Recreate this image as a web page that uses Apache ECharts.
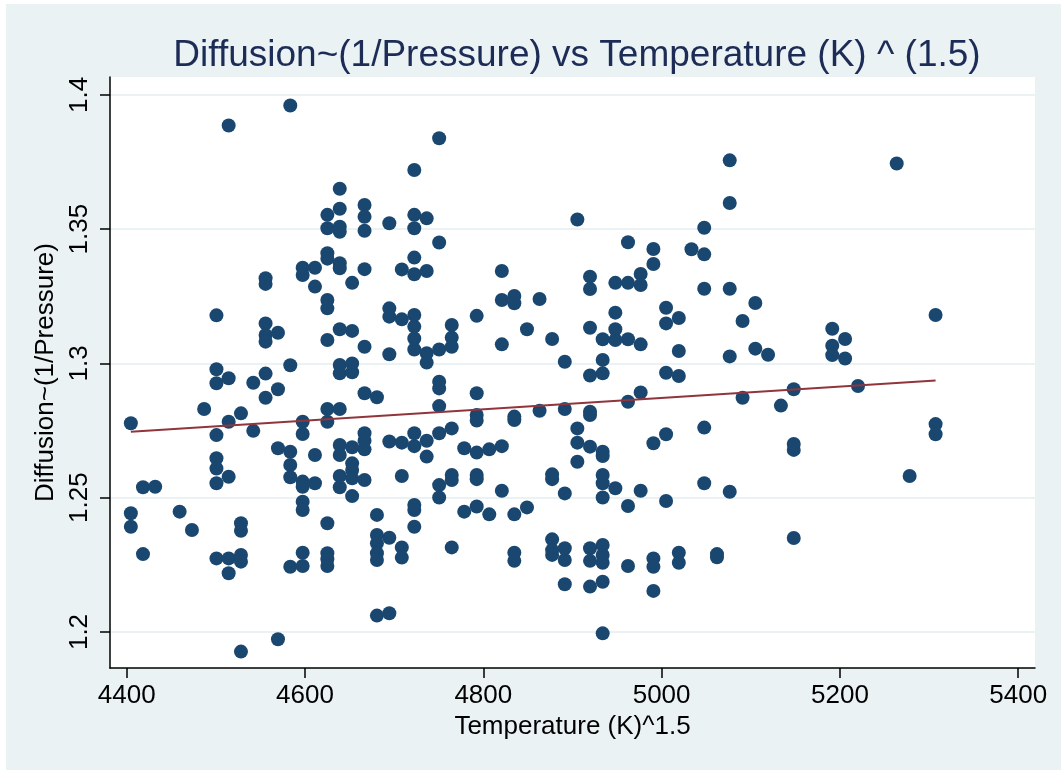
<!DOCTYPE html>
<html>
<head>
<meta charset="utf-8">
<title>Diffusion vs Temperature</title>
<script src="https://cdn.jsdelivr.net/npm/echarts@6.0.0/dist/echarts.min.js"></script>
<style>
  html, body { margin: 0; padding: 0; background: #ffffff; }
  #chart { width: 1061px; height: 770px; }
</style>
</head>
<body>
<div id="chart"></div>
<script>
// x positions (Temperature^1.5), one per column of points
const tempCols = [
  4404.7, 4418.3, 4432.0, 4459.4, 4473.2, 4486.9, 4500.7, 4514.4, 4528.2, 4542.0,
  4555.8, 4569.7, 4583.5, 4597.4, 4611.2, 4625.1, 4639.0, 4652.9, 4666.8, 4680.7,
  4694.6, 4708.6, 4722.6, 4736.5, 4750.5, 4764.6, 4778.6, 4792.6, 4806.7, 4820.8,
  4834.8, 4849.0, 4863.1, 4877.2, 4891.4, 4905.5, 4919.7, 4933.9, 4948.1, 4962.3,
  4976.5, 4990.8, 5005.0, 5019.3, 5033.5, 5047.8, 5062.1, 5076.4, 5090.8, 5105.1,
  5119.4, 5133.8, 5148.2, 5191.4, 5205.8, 5220.3, 5263.7, 5278.2, 5307.3
];

// diffusion values read for each column above
const diffCols = [
  [1.2777, 1.2442, 1.2392],
  [1.2539, 1.2290],
  [1.2541],
  [1.2448],
  [1.2380],
  [1.2830],
  [1.3179, 1.2978, 1.2926, 1.2733, 1.2647, 1.2609, 1.2554, 1.2274],
  [1.3886, 1.2945, 1.2783, 1.2578, 1.2274, 1.2219],
  [1.2814, 1.2405, 1.2377, 1.2287, 1.2262, 1.1927],
  [1.2928, 1.2749],
  [1.3317, 1.3296, 1.3149, 1.3106, 1.3081, 1.2962, 1.2872],
  [1.3114, 1.2904, 1.2684, 1.1973],
  [1.3960, 1.2993, 1.2671, 1.2622, 1.2576, 1.2243],
  [1.3356, 1.3329, 1.2783, 1.2737, 1.2560, 1.2541, 1.2485, 1.2454, 1.2295, 1.2246],
  [1.3356, 1.3286, 1.2659, 1.2554],
  [1.3553, 1.3503, 1.3410, 1.3390, 1.3236, 1.3205, 1.3087, 1.2830, 1.2783, 1.2405, 1.2293, 1.2271, 1.2246],
  [1.3650, 1.3576, 1.3509, 1.3490, 1.3373, 1.3354, 1.3127, 1.2994, 1.2963, 1.2830, 1.2696, 1.2659, 1.2581, 1.2539],
  [1.3300, 1.3121, 1.3000, 1.2967, 1.2688, 1.2628, 1.2603, 1.2572, 1.2506],
  [1.3590, 1.3546, 1.3494, 1.3351, 1.3062, 1.2889, 1.2740, 1.2712, 1.2680, 1.2566],
  [1.2874, 1.2436, 1.2361, 1.2330, 1.2293, 1.2268, 1.2061],
  [1.3522, 1.3205, 1.3174, 1.3034, 1.2709, 1.2351, 1.2070],
  [1.3350, 1.3164, 1.2705, 1.2581, 1.2315, 1.2277],
  [1.3720, 1.3553, 1.3503, 1.3394, 1.3332, 1.3180, 1.3137, 1.3093, 1.3052, 1.2740, 1.2692, 1.2473, 1.2454, 1.2392],
  [1.3540, 1.3344, 1.3038, 1.3003, 1.2712, 1.2653],
  [1.3838, 1.3450, 1.3052, 1.2932, 1.2907, 1.2841, 1.2740, 1.2547, 1.2501],
  [1.3143, 1.3096, 1.3062, 1.2758, 1.2585, 1.2566, 1.2315],
  [1.2684, 1.2448],
  [1.3177, 1.2889, 1.2808, 1.2787, 1.2668, 1.2585, 1.2569, 1.2467],
  [1.2680, 1.2438],
  [1.3344, 1.3236, 1.3071, 1.2692, 1.2526],
  [1.3251, 1.3224, 1.2802, 1.2789, 1.2438, 1.2295, 1.2265],
  [1.3127, 1.2464],
  [1.3240, 1.2824],
  [1.3091, 1.2587, 1.2569, 1.2345, 1.2305, 1.2287],
  [1.3006, 1.2830, 1.2516, 1.2312, 1.2268, 1.2178],
  [1.3536, 1.2758, 1.2705, 1.2634],
  [1.3323, 1.3277, 1.3133, 1.2955, 1.2820, 1.2808, 1.2690, 1.2312, 1.2265, 1.2169],
  [1.3090, 1.3013, 1.2963, 1.2671, 1.2655, 1.2585, 1.2554, 1.2501, 1.2324, 1.2287, 1.2258, 1.2187, 1.1995],
  [1.3300, 1.3189, 1.3127, 1.3087, 1.2535],
  [1.3451, 1.3300, 1.3090, 1.2857, 1.2469, 1.2246],
  [1.3333, 1.3292, 1.3071, 1.2892, 1.2526],
  [1.3426, 1.3370, 1.2703, 1.2274, 1.2243, 1.2153],
  [1.3207, 1.3149, 1.2965, 1.2736, 1.2488],
  [1.3169, 1.3046, 1.2953, 1.2295, 1.2258],
  [1.3425],
  [1.3505, 1.3406, 1.3278, 1.2761, 1.2554],
  [1.2290, 1.2278],
  [1.3756, 1.3597, 1.3278, 1.3026, 1.2522],
  [1.3158, 1.2872],
  [1.3225, 1.3055],
  [1.3032],
  [1.2843],
  [1.2904, 1.2700, 1.2678, 1.2350],
  [1.3129, 1.3066, 1.3031],
  [1.3091, 1.3018],
  [1.2916],
  [1.3744],
  [1.2581],
  [1.3180, 1.2774, 1.2736]
];

// fitted line end points
const fitX = [4404.7, 5307.3];
const fitY = [1.2746, 1.2936];

const xTicks = [4400, 4600, 4800, 5000, 5200, 5400];
const yTicks = [1.2, 1.25, 1.3, 1.35, 1.4];

const points = [];
tempCols.forEach((x, i) => {
  diffCols[i].forEach(y => points.push([x, y]));
});
const fitLine = fitX.map((x, i) => [x, fitY[i]]);

const font = '"Liberation Sans", Arial, Helvetica, sans-serif';
const bgColor = '#eaf2f3';

const chart = echarts.init(document.getElementById('chart'), null, { renderer: 'canvas' });

chart.setOption({
  backgroundColor: '#ffffff',
  animation: false,
  graphic: [
    { type: 'rect', z: -10, shape: { x: 6, y: 4, width: 1055, height: 766 }, style: { fill: bgColor } }
  ],
  title: {
    text: 'Diffusion~(1/Pressure) vs Temperature (K) ^ (1.5)',
    left: 572,
    top: 32,
    textAlign: 'center',
    textStyle: { fontFamily: font, fontSize: 37, fontWeight: 'normal', color: '#1c2c57' }
  },
  grid: {
    left: 110, top: 77, width: 925, height: 591,
    show: true, backgroundColor: '#ffffff', borderWidth: 0
  },
  xAxis: {
    type: 'value',
    min: 4381.3, max: 5418.8,
    name: 'Temperature (K)^1.5',
    nameLocation: 'middle',
    nameGap: 44,
    nameTextStyle: { fontFamily: font, fontSize: 26, color: '#000' },
    axisLine: { show: true, onZero: false, lineStyle: { color: '#000', width: 1.5 } },
    axisTick: { show: true, length: 10, lineStyle: { color: '#000', width: 1.5 }, customValues: xTicks },
    axisLabel: {
      fontFamily: font, fontSize: 26, color: '#000', margin: 15, customValues: xTicks,
      formatter: v => String(v)
    },
    splitLine: { show: false }
  },
  yAxis: {
    type: 'value',
    min: 1.1866, max: 1.40663,
    name: 'Diffusion~(1/Pressure)',
    nameLocation: 'middle',
    nameGap: 43,
    nameRotate: 90,
    nameTextStyle: { fontFamily: font, fontSize: 26, color: '#000' },
    axisLine: { show: true, onZero: false, lineStyle: { color: '#000', width: 1.5 } },
    axisTick: { show: true, length: 10, lineStyle: { color: '#000', width: 1.5 }, customValues: yTicks },
    axisLabel: {
      fontFamily: font, fontSize: 26, color: '#000', margin: 17, rotate: 90, customValues: yTicks,
      formatter: v => String(v)
    },
    splitLine: { show: true, lineStyle: { color: bgColor, width: 2 } }
  },
  series: [
    {
      type: 'scatter',
      data: points,
      symbol: 'circle',
      symbolSize: 14,
      itemStyle: { color: '#1a476f', opacity: 1 },
      z: 3
    },
    {
      type: 'line',
      data: fitLine,
      showSymbol: false,
      symbol: 'none',
      lineStyle: { color: '#90353b', width: 2 },
      z: 4
    }
  ]
});
</script>
</body>
</html>
